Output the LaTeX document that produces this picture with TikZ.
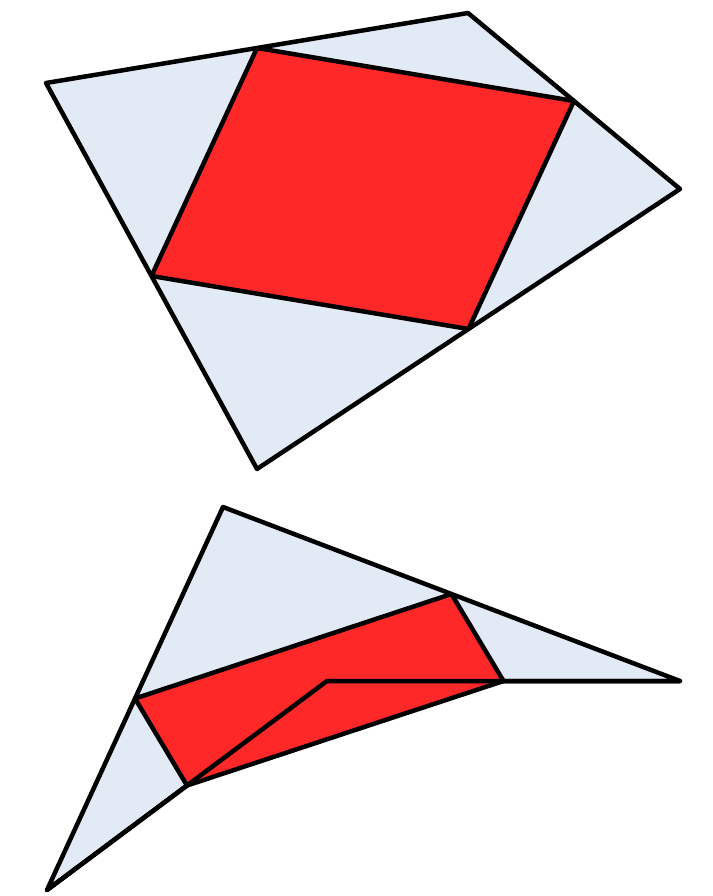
\documentclass[tikz,border=0pt]{standalone}
\usetikzlibrary{calc}
\definecolor{lightface}{RGB}{225,234,245}
\definecolor{redface}{RGB}{255,40,40}
\begin{document}
\begin{tikzpicture}[x=1pt,y=-1pt,
  quad/.style={fill=lightface,draw=black,line width=4.5pt,line join=round},
  para/.style={fill=redface,draw=black,line width=4.5pt,line join=round},
  edge/.style={draw=black,line width=4.5pt,line join=round,line cap=round}]
\useasboundingbox (0,0) rectangle (712,896);
% top quadrilateral
\coordinate (A) at (46,83);
\coordinate (B) at (468,13);
\coordinate (C) at (680,189);
\coordinate (D) at (257,469);
\path[quad] (A) -- (B) -- (C) -- (D) -- cycle;
\path[para] ($(A)!0.5!(B)$) -- ($(B)!0.5!(C)$) -- ($(C)!0.5!(D)$) -- ($(D)!0.5!(A)$) -- cycle;
% bottom quadrilateral (non-convex)
\coordinate (P) at (223,507);
\coordinate (Q) at (680,681);
\coordinate (R) at (327,681);
\coordinate (S) at (47,890);
\path[quad] (P) -- (Q) -- (R) -- (S) -- cycle;
\path[para] ($(P)!0.5!(Q)$) -- ($(Q)!0.5!(R)$) -- ($(R)!0.5!(S)$) -- ($(S)!0.5!(P)$) -- cycle;
\path[edge] (Q) -- (R) -- (S);
\end{tikzpicture}
\end{document}
